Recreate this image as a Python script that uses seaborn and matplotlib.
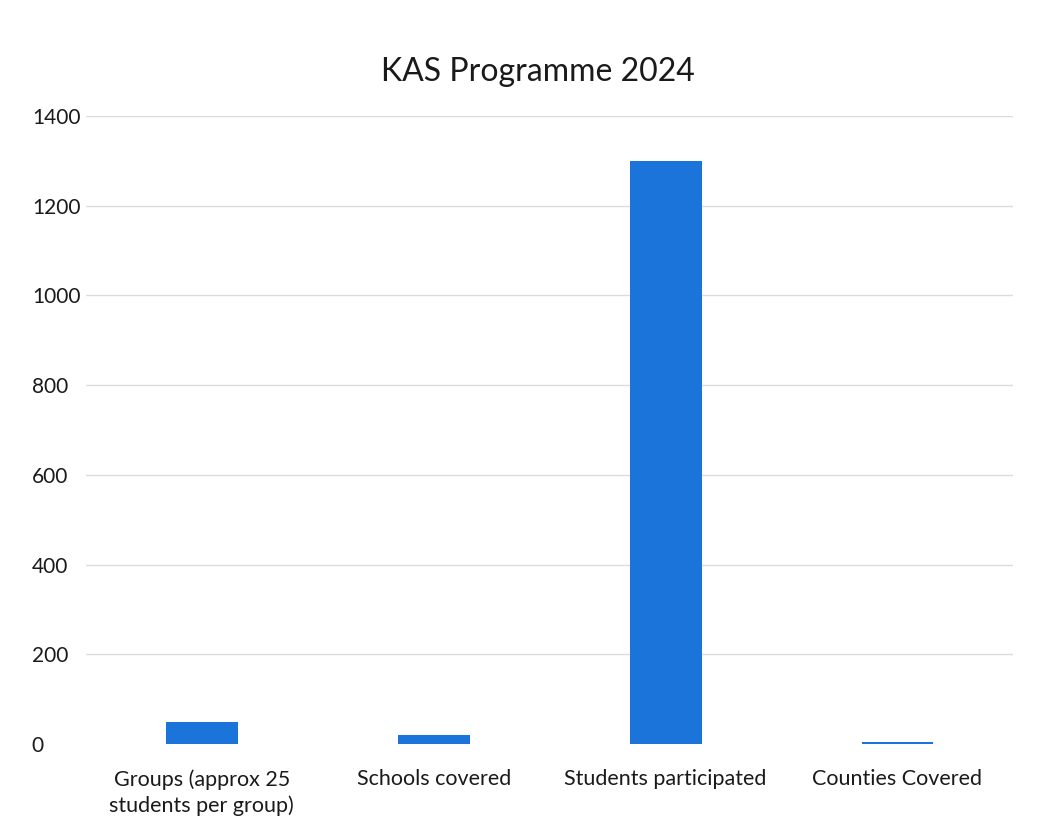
import matplotlib
matplotlib.use("Agg")
import matplotlib.pyplot as plt
import seaborn as sns
import pandas as pd

categories = [
    "Groups (approx 25\nstudents per group)",
    "Schools covered",
    "Students participated",
    "Counties Covered",
]
values = [50, 20, 1300, 5]
y_ticks = [0, 200, 400, 600, 800, 1000, 1200, 1400]
title = "KAS Programme 2024"

sns.set_theme(style="white")
plt.rcParams["font.family"] = ["Lato", "DejaVu Sans"]

df = pd.DataFrame({"category": categories, "value": values})

fig = plt.figure(figsize=(10.48, 8.16), dpi=100)
ax = fig.add_axes([0.082, 0.088, 0.885, 0.77])

sns.barplot(data=df, x="category", y="value", color="#1b74d9",
            width=0.31, saturation=1, linewidth=0, ax=ax, zorder=3)

ax.set_ylim(0, 1400)
ax.set_xlim(-0.5, 3.5)
ax.set_yticks(y_ticks)
ax.set_yticklabels([str(t) for t in y_ticks], fontsize=15, color="#1a1a1a")
for lbl in ax.get_yticklabels():
    lbl.set_horizontalalignment("left")
for t in y_ticks[1:]:
    ax.axhline(t, color="#dcdcdc", lw=1.0, zorder=1)

ax.tick_params(axis="x", labelsize=15.5, colors="#1a1a1a", length=0, pad=18)
ax.tick_params(axis="y", length=0, pad=39)
for lbl in ax.get_xticklabels():
    lbl.set_linespacing(1.35)
ax.set_xlabel("")
ax.set_ylabel("")
for s in ax.spines.values():
    s.set_visible(False)

fig.text(0.513, 0.912, title, ha="center", va="center", fontsize=23, color="#1a1a1a")

fig.savefig("out.png", dpi=100, facecolor="white")
